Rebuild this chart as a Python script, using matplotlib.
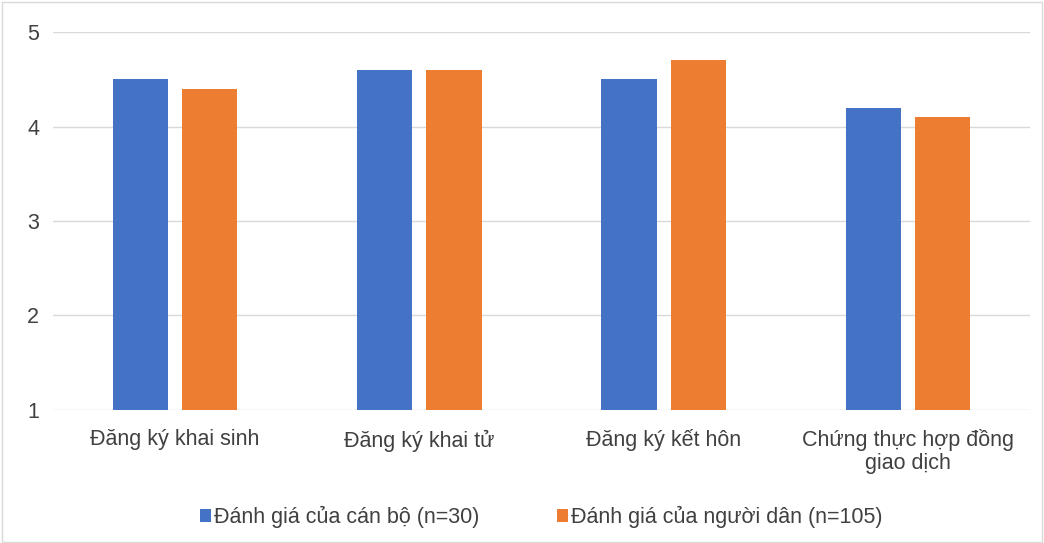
import matplotlib.pyplot as plt
import numpy as np
from matplotlib.patches import Rectangle

plt.rcParams['font.family'] = ['Liberation Sans', 'DejaVu Sans']

# Data
categories = ['Đăng ký khai sinh', 'Đăng ký khai tử', 'Đăng ký kết hôn',
              'Chứng thực hợp đồng\ngiao dịch']
can_bo = [4.5, 4.6, 4.5, 4.2]
nguoi_dan = [4.4, 4.6, 4.7, 4.1]
series_names = ['Đánh giá của cán bộ (n=30)', 'Đánh giá của người dân (n=105)']

fig = plt.figure(figsize=(10.44, 5.43), dpi=100)
ax = fig.add_axes([0.0508, 0.245, 0.9358, 0.696])

x = np.arange(len(categories))
w = 0.226
ax.bar(x - 0.142, can_bo, w, bottom=0, color='#4472C4', label=series_names[0], zorder=3)
ax.bar(x + 0.142, nguoi_dan, w, bottom=0, color='#ED7D31', label=series_names[1], zorder=3)

ax.set_xlim(-0.5, len(categories) - 0.5)
ax.set_ylim(1, 5)
ax.set_yticks([1, 2, 3, 4, 5])
ax.yaxis.grid(True, color='#D9D9D9', linewidth=1, zorder=0)
for s in ax.spines.values():
    s.set_visible(False)
ax.tick_params(axis='both', length=0, labelsize=15.5, colors='#404040')
ax.tick_params(axis='y', pad=10)
ax.tick_params(axis='x', pad=14)
ax.set_xticks(x)
ax.set_xticklabels(categories, linespacing=1.1)

ax.legend(loc='upper center', bbox_to_anchor=(0.5, -0.203), ncol=2, frameon=False,
          fontsize=15.5, handlelength=0.5, handleheight=0.5, handletextpad=0.15,
          columnspacing=3.6, labelcolor='#404040')

fig.patches.append(Rectangle((0.002, 0.002), 0.996, 0.994, transform=fig.transFigure,
                             fill=False, edgecolor='#D9D9D9', linewidth=1))

fig.savefig('out.png', dpi=100)
